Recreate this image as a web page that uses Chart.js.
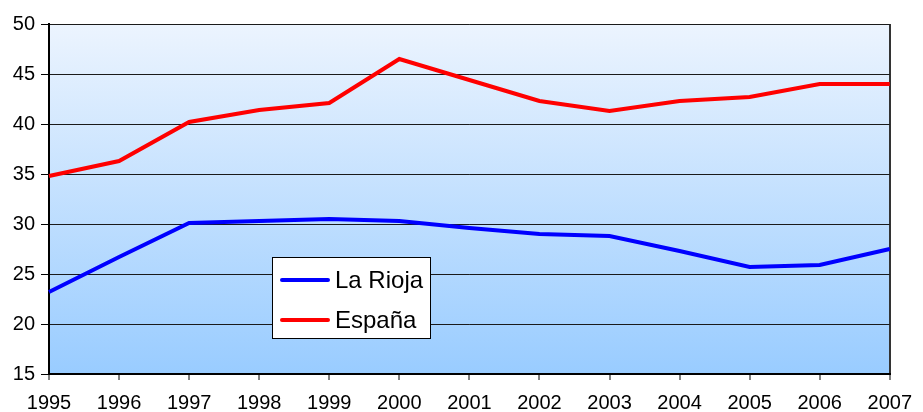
<!DOCTYPE html>
<html>
<head>
<meta charset="utf-8">
<script src="https://cdn.jsdelivr.net/npm/chart.js@4"></script>
<style>
    body { margin: 0; background: #ffffff; }
    #chart { display: block; }
</style>
</head>
<body>
<canvas id="chart" width="923" height="412"></canvas>
<script>
// Data
const years = ['1995', '1996', '1997', '1998', '1999', '2000', '2001',
               '2002', '2003', '2004', '2005', '2006', '2007'];
const laRioja = [23.2, 26.7, 30.1, 30.3, 30.5, 30.3, 29.6, 29.0, 28.8, 27.3, 25.7, 25.9, 27.5];
const espana = [34.8, 36.3, 40.2, 41.4, 42.1, 46.5, 44.4, 42.3, 41.3, 42.3, 42.7, 44.0, 44.0];
const seriesNames = ['La Rioja', 'España'];
const seriesColors = ['#0000ff', '#ff0000'];

const FONT = 'Liberation Sans, Arial, sans-serif';

// 1. Plot area: white page + blue vertical gradient behind the grid
const plotBackground = {
    id: 'plotBackground',
    beforeDraw(chart) {
        const { ctx, chartArea: a } = chart;
        ctx.save();
        ctx.fillStyle = '#ffffff';
        ctx.fillRect(0, 0, chart.width, chart.height);
        const grad = ctx.createLinearGradient(0, a.top, 0, a.bottom);
        grad.addColorStop(0, '#ecf4fe');
        grad.addColorStop(1, '#99ccff');
        ctx.fillStyle = grad;
        ctx.fillRect(a.left, a.top, a.right - a.left, a.bottom - a.top);
        ctx.restore();
    }
};

// 2. Boxed legend sitting inside the plot
const boxLegend = {
    id: 'boxLegend',
    afterDraw(chart) {
        const { ctx } = chart;
        const box = { x: 272.5, y: 257.5, w: 158, h: 81 };
        ctx.save();
        ctx.fillStyle = '#ffffff';
        ctx.fillRect(box.x, box.y, box.w, box.h);
        ctx.strokeStyle = '#000000';
        ctx.lineWidth = 1;
        ctx.strokeRect(box.x, box.y, box.w, box.h);

        ctx.font = '24px ' + FONT;
        ctx.textBaseline = 'middle';
        ctx.textAlign = 'left';
        chart.data.datasets.forEach((ds, i) => {
            const y = 280 + i * 40;
            ctx.strokeStyle = ds.borderColor;
            ctx.lineWidth = 4;
            ctx.lineCap = 'round';
            ctx.beginPath();
            ctx.moveTo(282, y);
            ctx.lineTo(328, y);
            ctx.stroke();
            ctx.fillStyle = '#000000';
            ctx.fillText(ds.label, 335, y + 1);
        });
        ctx.restore();
    }
};

new Chart(document.getElementById('chart'), {
    type: 'line',
    data: {
        labels: years,
        datasets: [
            { label: seriesNames[0], data: laRioja, borderColor: seriesColors[0] },
            { label: seriesNames[1], data: espana, borderColor: seriesColors[1] }
        ]
    },
    options: {
        responsive: false,
        animation: false,
        layout: { padding: { top: 24, right: 21, left: 0, bottom: 0 } },
        elements: {
            line: { borderWidth: 4, tension: 0, borderJoinStyle: 'miter' },
            point: { radius: 0 }
        },
        plugins: {
            legend: { display: false },
            tooltip: { enabled: false }
        },
        scales: {
            x: {
                offset: false,
                afterFit: (s) => { s.height = 38; },
                grid: {
                    drawOnChartArea: true,
                    color: (c) => c.index === years.length - 1 ? '#333333' : 'rgba(0,0,0,0)',
                    lineWidth: 2,
                    tickColor: '#000000',
                    tickWidth: 1,
                    tickLength: 6
                },
                border: { display: true, color: '#000000', width: 2 },
                ticks: {
                    color: '#000000',
                    font: { family: FONT, size: 20 },
                    padding: 11,
                    maxRotation: 0,
                    autoSkip: false
                }
            },
            y: {
                min: 15,
                max: 50,
                afterFit: (s) => { s.width = 49; },
                grid: {
                    color: '#1a1a1a',
                    lineWidth: 1,
                    tickColor: '#000000',
                    tickLength: 8
                },
                border: { display: true, color: '#000000', width: 2 },
                ticks: {
                    stepSize: 5,
                    color: '#000000',
                    font: { family: FONT, size: 20 },
                    padding: 6
                }
            }
        }
    },
    plugins: [plotBackground, boxLegend]
});
</script>
</body>
</html>
